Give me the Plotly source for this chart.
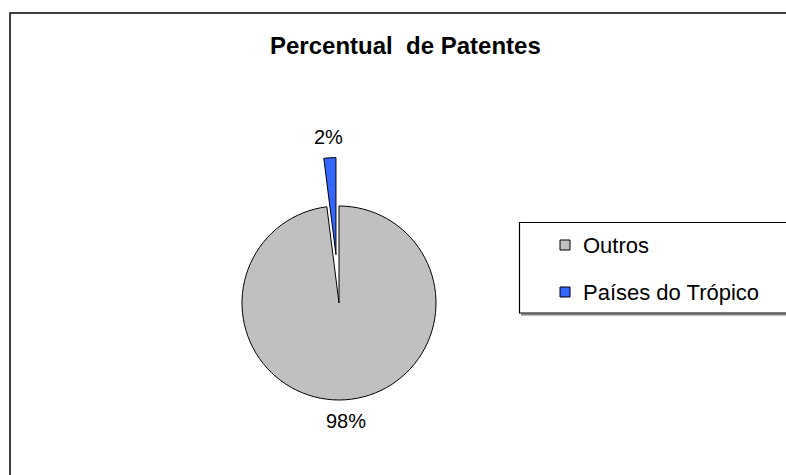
import math
import plotly.graph_objects as go

# ---- data ----
labels = ["Outros", "Países do Trópico"]
values = [98, 2]
colors = ["#C0C0C0", "#3366FF"]
pulls = [0, 0.5]
title_text = "Percentual  de Patentes"

W, H = 786, 475
FONT = "Liberation Sans, Arial, Helvetica, sans-serif"


def px(x):
    return x / W


def py(y):
    return 1 - y / H


# pie geometry (pixels): centre and radius of the un-pulled pie
cx, cy, r = 339, 303, 97
half = r * (1 + max(pulls))

fig = go.Figure()
fig.add_trace(go.Pie(
    labels=labels,
    values=values,
    marker=dict(colors=colors, line=dict(color="#000000", width=1)),
    pull=pulls,
    sort=False,
    direction="clockwise",
    rotation=0,
    textinfo="none",
    showlegend=False,
    automargin=False,
    hoverinfo="label+percent",
    domain=dict(x=[px(cx - half), px(cx + half)],
                y=[py(cy + half), py(cy - half)]),
))

annotations = []
# percent labels, placed outside each slice along its mid-angle
total = sum(values)
cum = 0
for v, p in zip(values, pulls):
    mid = 2 * math.pi * (cum + v / 2) / total  # clockwise from 12 o'clock
    cum += v
    rad = r * (1 + p) + 21
    lx = cx + rad * math.sin(mid)
    ly = cy - rad * math.cos(mid)
    annotations.append(dict(text=f"{round(100 * v / total)}%", xref="paper", yref="paper",
                            x=px(lx), y=py(ly), xanchor="center", yanchor="middle",
                            showarrow=False,
                            font=dict(family=FONT, size=20, color="#000000")))

shapes = []
# outer chart border
shapes.append(dict(type="rect", xref="paper", yref="paper",
                   x0=px(10), x1=px(W + 40), y0=py(13), y1=py(H + 40),
                   line=dict(color="#000000", width=1.5),
                   fillcolor="rgba(0,0,0,0)", layer="below"))
# legend box + shadow
shapes.append(dict(type="line", xref="paper", yref="paper",
                   x0=px(521), x1=px(W + 30), y0=py(314.5), y1=py(314.5),
                   line=dict(color="#808080", width=2)))
shapes.append(dict(type="rect", xref="paper", yref="paper",
                   x0=px(519.5), x1=px(W + 40), y0=py(222.5), y1=py(313),
                   line=dict(color="#000000", width=1.2),
                   fillcolor="#FFFFFF"))

leg_y = [245, 292]
for lab, col, yy in zip(labels, colors, leg_y):
    shapes.append(dict(type="rect", xref="paper", yref="paper",
                       x0=px(560), x1=px(570), y0=py(yy + 5), y1=py(yy - 5),
                       line=dict(color="#000000", width=1), fillcolor=col))
    annotations.append(dict(text=lab, xref="paper", yref="paper",
                            x=px(581), y=py(yy), xanchor="left", yanchor="middle",
                            showarrow=False,
                            font=dict(family=FONT, size=22, color="#000000")))

annotations.append(dict(text="<b>" + title_text + "</b>", xref="paper", yref="paper",
                        x=px(405), y=py(46), xanchor="center", yanchor="middle",
                        showarrow=False,
                        font=dict(family=FONT, size=24, color="#000000")))

fig.update_layout(
    width=W, height=H,
    margin=dict(l=0, r=0, t=0, b=0, autoexpand=False),
    paper_bgcolor="#FFFFFF",
    plot_bgcolor="#FFFFFF",
    showlegend=False,
    shapes=shapes,
    annotations=annotations,
)

fig.write_html(
    "out.html",
    config={"displayModeBar": False},
    post_script="document.body.style.margin='0';document.body.style.overflow='hidden';"
                "document.documentElement.style.overflow='hidden';",
)
